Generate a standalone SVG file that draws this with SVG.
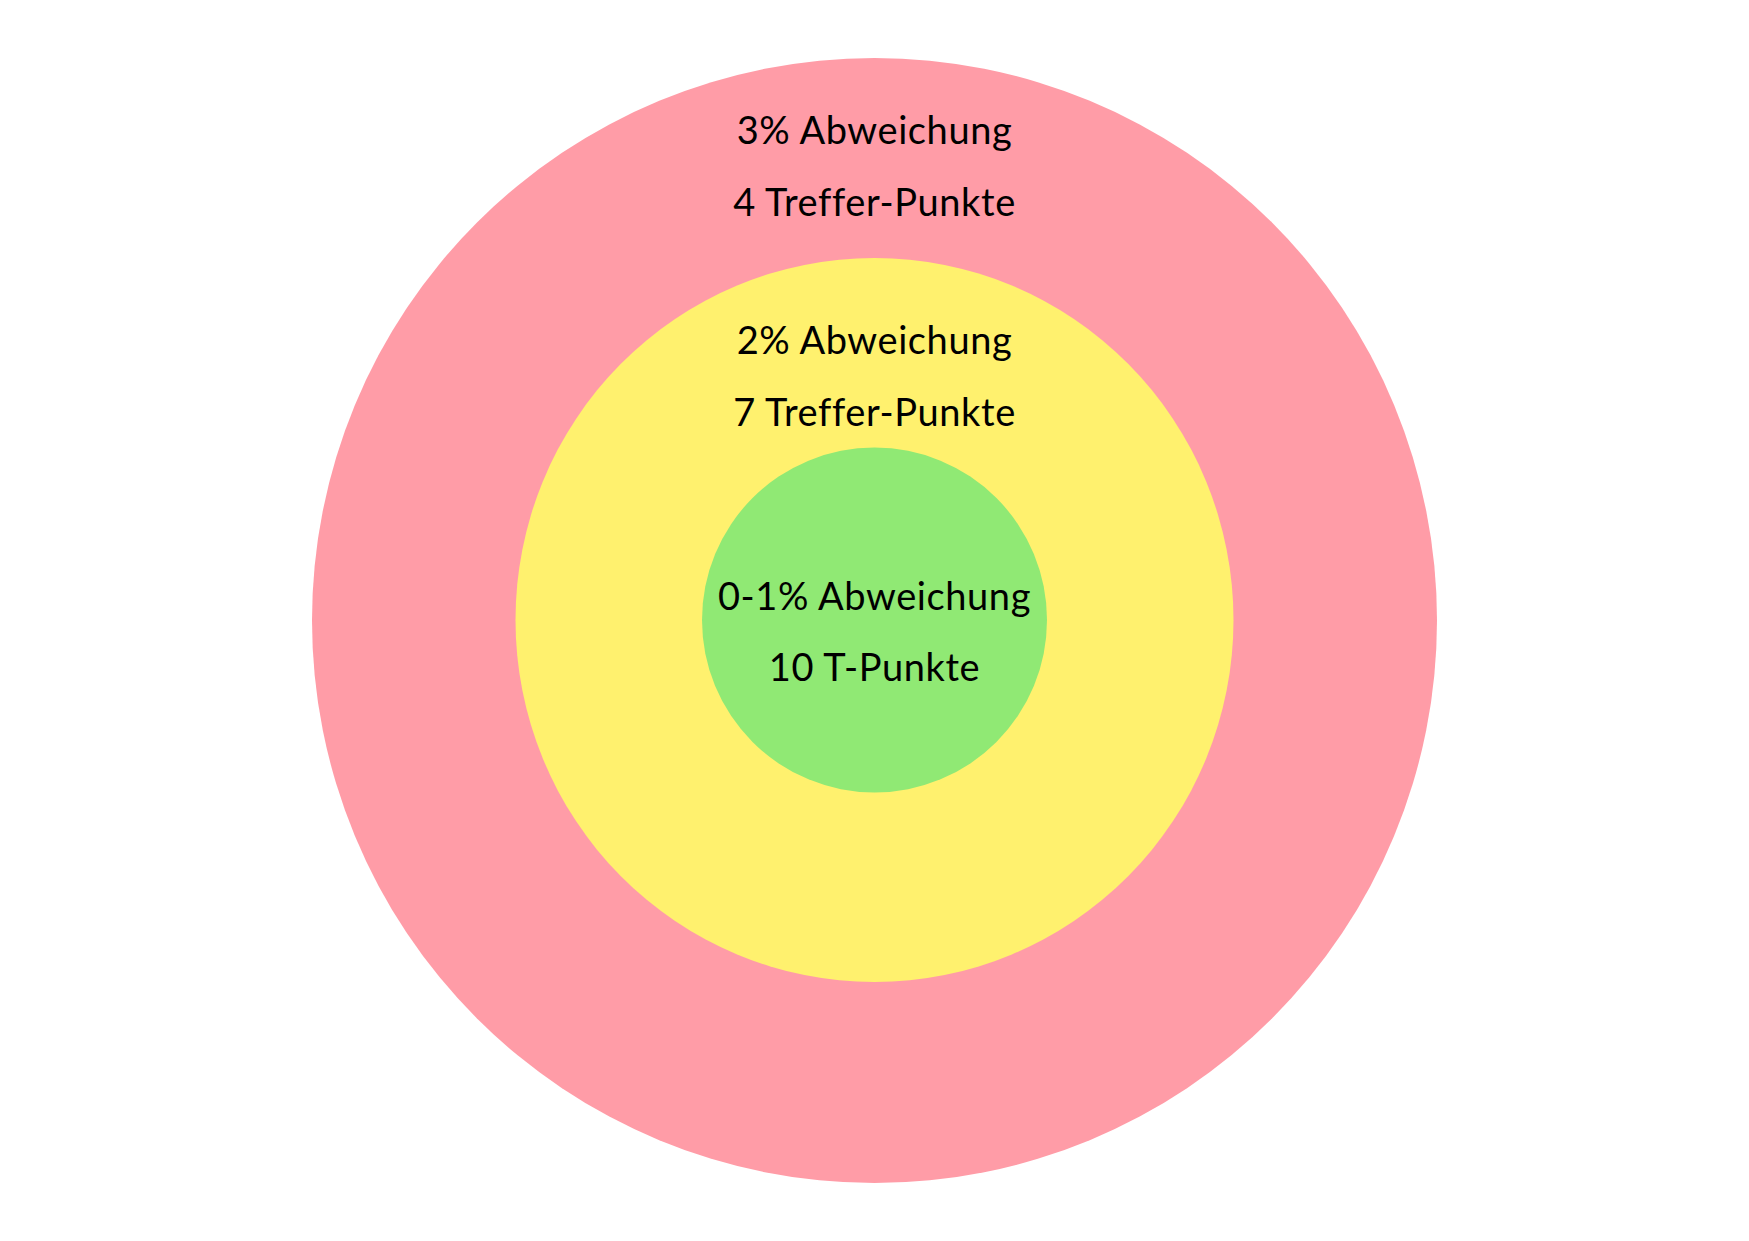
<svg xmlns="http://www.w3.org/2000/svg" width="1749" height="1241" viewBox="0 0 1749 1241">
  <style>
    .lbl { font-family: "Lato", "Noto Sans", sans-serif; font-size: 38px; letter-spacing: 0.6px; fill: #000; text-anchor: middle; }
  </style>
  <rect width="1749" height="1241" fill="#ffffff"/>
  <!-- outer ring: 3% -->
  <g id="ring-3">
    <circle cx="874.5" cy="620.5" r="562.5" fill="#ff9ca7"/>
    <text class="lbl" x="874.5" y="144">3% Abweichung</text>
    <text class="lbl" x="874.5" y="216">4 Treffer-Punkte</text>
  </g>
  <!-- middle ring: 2% -->
  <g id="ring-2">
    <ellipse cx="874.5" cy="620" rx="359" ry="362" fill="#fff16e"/>
    <text class="lbl" x="874.5" y="354">2% Abweichung</text>
    <text class="lbl" x="874.5" y="426">7 Treffer-Punkte</text>
  </g>
  <!-- centre: 0-1% -->
  <g id="ring-1">
    <circle cx="874.5" cy="620" r="172.5" fill="#90e974"/>
    <text class="lbl" x="874.5" y="610">0-1% Abweichung</text>
    <text class="lbl" x="874.5" y="681">10 T-Punkte</text>
  </g>
</svg>
